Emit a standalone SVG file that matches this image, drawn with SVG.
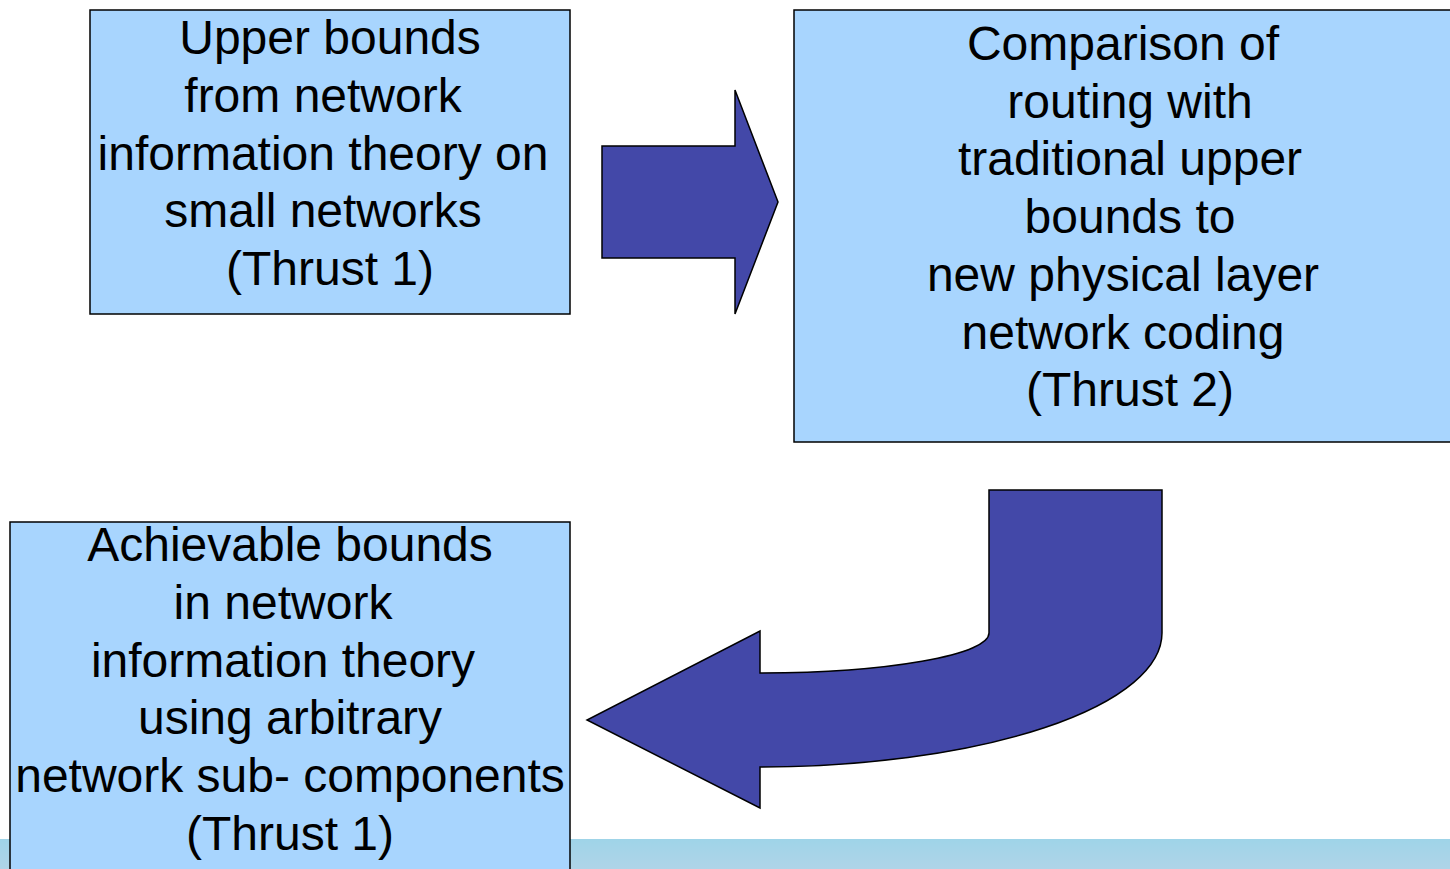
<svg xmlns="http://www.w3.org/2000/svg" width="1450" height="869" viewBox="0 0 1450 869">
  <defs>
    <linearGradient id="band" x1="0" y1="0" x2="0" y2="1">
      <stop offset="0" stop-color="#9fd4e8"/>
      <stop offset="1" stop-color="#afd4e8"/>
    </linearGradient>
    <style>
      .box { fill: #a8d5fe; stroke: #000; stroke-width: 1.5; }
      .arrow { fill: #4348a8; stroke: #000; stroke-width: 1.5; stroke-linejoin: miter; }
      .label { font-family: "Liberation Sans", Arial, sans-serif; font-size: 48px; fill: #000; text-anchor: middle; }
    </style>
  </defs>

  <rect x="0" y="0" width="1450" height="869" fill="#fff"/>
  <!-- footer band -->
  <rect x="0" y="839" width="1450" height="30" fill="url(#band)"/>

  <!-- connectors -->
  <g id="connectors">
    <path id="arrow-right" class="arrow" d="M602,146 H735 V90 L778,202 L735,314 V258 H602 Z"/>
    <path id="arrow-curved" class="arrow" d="M989,490 H1162 V633 A402,134 0 0 1 760,767 V808 L587,720 L760,631 V673 A229,40 0 0 0 989,633 Z"/>
  </g>

  <g id="node-upper-bounds">
    <rect class="box" x="90" y="10" width="480" height="304"/>
    <text class="label" x="330" y="54">Upper bounds</text>
    <text class="label" x="323" y="112">from network</text>
    <text class="label" x="323" y="170">information theory on</text>
    <text class="label" x="323" y="227">small networks</text>
    <text class="label" x="330" y="285">(Thrust 1)</text>
  </g>

  <g id="node-comparison">
    <rect class="box" x="794" y="10" width="670" height="432"/>
    <text class="label" x="1123" y="60">Comparison of</text>
    <text class="label" x="1130" y="118">routing with</text>
    <text class="label" x="1130" y="175">traditional upper</text>
    <text class="label" x="1130" y="233">bounds to</text>
    <text class="label" x="1123" y="291">new physical layer</text>
    <text class="label" x="1123" y="349">network coding</text>
    <text class="label" x="1130" y="406">(Thrust 2)</text>
  </g>

  <g id="node-achievable">
    <rect class="box" x="10" y="522" width="560" height="360"/>
    <text class="label" x="290" y="561">Achievable bounds</text>
    <text class="label" x="283" y="619">in network</text>
    <text class="label" x="283" y="677">information theory</text>
    <text class="label" x="290" y="734">using arbitrary</text>
    <text class="label" x="290" y="792">network sub- components</text>
    <text class="label" x="290" y="850">(Thrust 1)</text>
  </g>
</svg>
